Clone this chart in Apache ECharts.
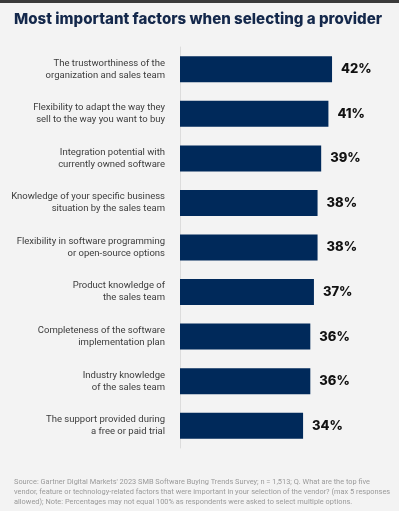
<!DOCTYPE html>
<html>
<head>
<meta charset="utf-8">
<script src="https://cdn.jsdelivr.net/npm/echarts@6/dist/echarts.min.js"></script>
<style>
  html, body { margin: 0; padding: 0; background: #f3f3f3; }
  #chart { width: 399px; height: 511px; }
</style>
</head>
<body>
<div id="chart"></div>
<script>
const categories = [
    'The trustworthiness of the\norganization and sales team',
    'Flexibility to adapt the way they\nsell to the way you want to buy',
    'Integration potential with\ncurrently owned software',
    'Knowledge of your specific business\nsituation by the sales team',
    'Flexibility in software programming\nor open-source options',
    'Product knowledge of\nthe sales team',
    'Completeness of the software\nimplementation plan',
    'Industry knowledge\nof the sales team',
    'The support provided during\na free or paid trial',
];
const shares = [42, 41, 39, 38, 38, 37, 36, 36, 34];

const titleText = 'Most important factors when selecting a provider';
const sourceText = "Source: Gartner Digital Markets' 2023 SMB Software Buying Trends Survey; n = 1,513; Q. What are the top five\n" +
    'vendor, feature or technology-related factors that were important in your selection of the vendor? (max 5 responses\n' +
    'allowed); Note: Percentages may not equal 100% as respondents were asked to select multiple options.';

const chart = echarts.init(document.getElementById('chart'));

chart.setOption({
    backgroundColor: '#f3f3f3',
    title: {
        text: titleText,
        left: 14,
        top: 12,
        padding: 0,
        textStyle: {
            fontFamily: 'Inter',
            fontWeight: 800,
            fontSize: 15.1,
            color: '#14284b',
        },
    },
    graphic: [
        {
            type: 'rect',
            left: 0,
            top: 0,
            shape: { width: 399, height: 3 },
            style: { fill: '#3a3a3a' },
        },
        {
            type: 'text',
            left: 14,
            top: 477,
            style: {
                text: sourceText,
                fontFamily: 'Roboto',
                fontSize: 7.4,
                lineHeight: 10,
                fill: '#9a9a9a',
            },
        },
    ],
    grid: {
        left: 180,
        top: 47,
        width: 181,
        height: 401,
    },
    xAxis: {
        type: 'value',
        min: 0,
        max: 50,
        show: false,
    },
    yAxis: {
        type: 'category',
        inverse: true,
        data: categories,
        axisLine: { lineStyle: { color: '#dcdcdc', width: 1 } },
        axisTick: { show: false },
        axisLabel: {
            margin: 15,
            fontFamily: 'Roboto',
            fontSize: 9.5,
            lineHeight: 12,
            color: '#3c3c3c',
            align: 'right',
        },
    },
    series: [
        {
            type: 'bar',
            data: shares,
            barWidth: 26,
            itemStyle: { color: '#00295a' },
            label: {
                show: true,
                position: 'right',
                distance: 9,
                formatter: '{c}%',
                fontFamily: 'Inter',
                fontWeight: 800,
                fontSize: 13,
                color: '#111',
            },
        },
    ],
});
</script>
</body>
</html>
